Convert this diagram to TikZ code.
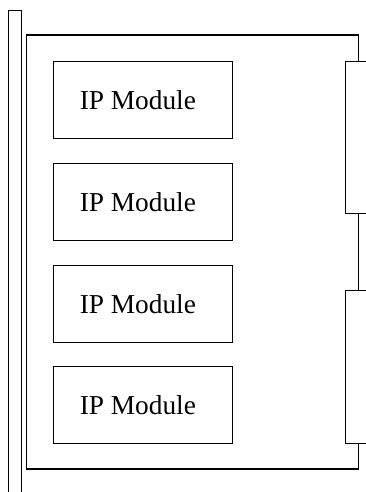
\documentclass[tikz,border=0pt]{standalone}
\usepackage{fontspec}
\setmainfont{Liberation Serif}
\usetikzlibrary{calc}

\begin{document}
\begin{tikzpicture}[x=0.75pt, y=-0.75pt, line width=1pt,
    module/.style={draw, rectangle, anchor=north west, minimum width=134.25pt,
        minimum height=57.75pt, font=\fontsize{20.5}{24}\selectfont,
        execute at end node={\hspace*{7.5pt}}},
    conn/.style={draw, rectangle, anchor=north west, minimum width=30pt}]
    % Fix the page to the picture size
    \useasboundingbox (0,0) rectangle (366,492);
    \clip (0,0) rectangle (366,492);

    % Define the board corners
    \coordinate (TL) at (26.7,35);
    \coordinate (TR) at (358.7,35);
    \coordinate (BL) at (26.7,469);
    \coordinate (BR) at (358.7,469);

    % Backplane bar on the left
    \node[draw, rectangle, anchor=north west, minimum width=9.5pt,
        minimum height=375pt] (bar) at (8,10) {};

    % The four IP modules
    \node[module] (ip1) at (52.7,61) {IP Module};
    \node[module] (ip2) at (52.7,163) {IP Module};
    \node[module] (ip3) at (52.7,265) {IP Module};
    \node[module] (ip4) at (52.7,366) {IP Module};

    % Connectors on the right edge (cut off by the page)
    \node[conn, minimum height=114pt] (conA) at (345,61) {};
    \node[conn, minimum height=114.75pt] (conB) at (345,290) {};

    % Board outline, broken by the connectors
    \draw (TR |- conA.north) -- (TR) -- (TL) -- (BL) -- (BR) -- (BR |- conB.south);
    \draw (TR |- conA.south) -- (TR |- conB.north);
\end{tikzpicture}
\end{document}
